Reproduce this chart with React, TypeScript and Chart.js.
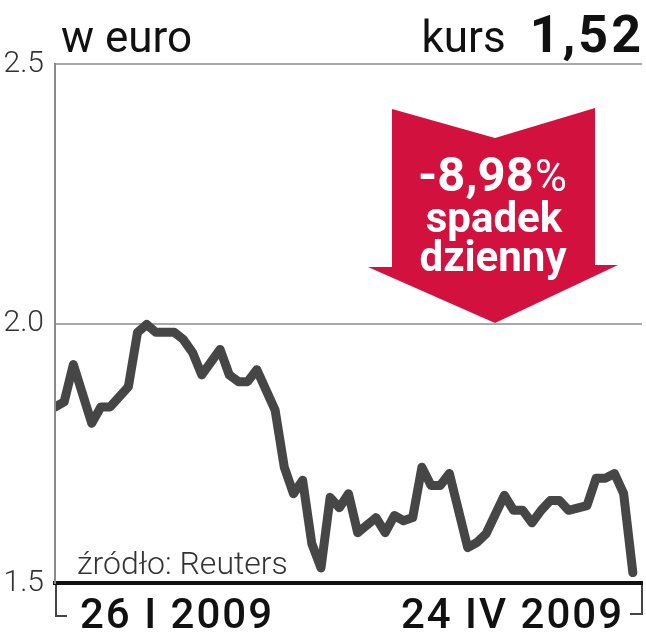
import React, { useEffect, useRef } from "react";
import { Chart, registerables } from "chart.js";

Chart.register(...registerables);

// trading-day slots from 26 I 2009 to 24 IV 2009 (+1 empty slot at the right edge)
const daySlots: string[] = Array.from({ length: 65 }, (_, i) => `d${i}`);

// EUR rate (null = no visible vertex; line spans the gap)
const kurs: (number | null)[] = [
  1.839, 1.849, 1.921, null, 1.808, 1.839, 1.839, null, 1.878, 1.983,
  1.998, 1.983, null, 1.983, 1.969, 1.944, 1.901, null, 1.950, 1.901,
  1.888, 1.888, 1.911, null, 1.833, 1.723, 1.672, 1.698, 1.576, 1.529,
  1.665, 1.645, 1.672, 1.597, null, 1.626, 1.597, 1.630, 1.620, 1.626,
  1.723, 1.688, 1.688, 1.711, null, 1.568, 1.578, 1.595, null, 1.669,
  1.640, 1.640, 1.616, 1.640, 1.659, 1.659, 1.640, null, 1.649, 1.702,
  1.702, 1.711, 1.672, 1.520, null,
];

const yTicks = [1.5, 2.0, 2.5];
const xTickLabels = ["26 I 2009", "24 IV 2009"];
const headerLeft = "w euro";
const headerKurs = "kurs";
const headerValue = "1,52";
const changeValue = "-8,98";
const changeLines = ["spadek", "dzienny"];
const sourceText = "źródło: Reuters";

const FONT = "Roboto, 'Liberation Sans', Arial, sans-serif";

const overlay = {
  id: "overlay",
  afterDraw(chart: any) {
    const ctx: any = chart.ctx;
    const { left, right, bottom } = chart.chartArea;
    ctx.save();

    // header
    ctx.fillStyle = "#111";
    ctx.textBaseline = "alphabetic";
    ctx.textAlign = "left";
    ctx.font = `400 44px ${FONT}`;
    ctx.fillText(headerLeft, 61, 52);
    ctx.textAlign = "right";
    ctx.font = `700 52px ${FONT}`;
    ctx.letterSpacing = "3px";
    ctx.fillText(headerValue, 644, 52);
    const vw = ctx.measureText(headerValue).width;
    ctx.letterSpacing = "0px";
    ctx.font = `400 44px ${FONT}`;
    ctx.fillText(headerKurs, 644 - vw - 24, 52);

    // red arrow
    ctx.fillStyle = "#d2113f";
    ctx.beginPath();
    ctx.moveTo(392, 109);
    ctx.lineTo(495, 138);
    ctx.lineTo(595, 108);
    ctx.lineTo(595, 265);
    ctx.lineTo(618, 265);
    ctx.lineTo(495, 323);
    ctx.lineTo(368, 267);
    ctx.lineTo(392, 267);
    ctx.closePath();
    ctx.fill();

    // arrow text
    ctx.fillStyle = "#ffffff";
    ctx.textAlign = "left";
    ctx.font = `700 49px ${FONT}`;
    const w1 = ctx.measureText(changeValue).width;
    ctx.font = `400 44px ${FONT}`;
    const w2 = ctx.measureText("%").width;
    const cx = 492;
    const sx = cx - (w1 + w2) / 2;
    ctx.font = `700 49px ${FONT}`;
    ctx.fillText(changeValue, sx, 191);
    ctx.font = `400 44px ${FONT}`;
    ctx.fillText("%", sx + w1 + 1, 191);
    ctx.textAlign = "center";
    ctx.font = `700 42px ${FONT}`;
    ctx.fillText(changeLines[0], cx + 2, 232);
    ctx.fillText(changeLines[1], cx + 1, 271);

    // source
    ctx.fillStyle = "#333";
    ctx.textAlign = "left";
    ctx.font = `300 32px ${FONT}`;
    ctx.fillText(sourceText, 77, 574);

    // x-axis brackets
    ctx.strokeStyle = "#444";
    ctx.lineWidth = 2;
    ctx.beginPath();
    ctx.moveTo(left + 1, bottom + 2);
    ctx.lineTo(left + 1, 616);
    ctx.lineTo(left + 12, 616);
    ctx.moveTo(right, bottom + 2);
    ctx.lineTo(right, 614);
    ctx.lineTo(right - 12, 614);
    ctx.stroke();

    // x-axis labels
    ctx.fillStyle = "#111";
    ctx.font = `500 42px ${FONT}`;
    ctx.letterSpacing = "2px";
    ctx.textAlign = "left";
    ctx.fillText(xTickLabels[0], left + 25, 628);
    ctx.textAlign = "right";
    ctx.fillText(xTickLabels[1], right - 18, 628);
    ctx.letterSpacing = "0px";

    ctx.restore();
  },
};

export default function App() {
  const ref = useRef<HTMLCanvasElement | null>(null);

  useEffect(() => {
    if (!ref.current) return;
    const chart = new Chart(ref.current, {
      type: "line",
      data: {
        labels: daySlots,
        datasets: [
          {
            data: kurs,
            borderColor: "#464646",
            borderWidth: 9,
            pointRadius: 0,
            tension: 0,
            spanGaps: true,
            borderJoinStyle: "round",
            borderCapStyle: "round",
            clip: { left: -1, top: 10, right: 10, bottom: 10 } as any,
          },
        ],
      },
      options: {
        responsive: false,
        animation: false,
        layout: { padding: { top: 64, right: 4, left: 0, bottom: 0 } },
        plugins: { legend: { display: false }, tooltip: { enabled: false } },
        scales: {
          x: {
            type: "category",
            offset: false,
            ticks: { display: false },
            grid: { display: false, drawTicks: false },
            border: { display: true, color: "#111", width: 4 },
            afterFit: (s: any) => {
              s.height = 57;
            },
          },
          y: {
            min: 1.5,
            max: 2.5,
            afterBuildTicks: (s: any) => {
              s.ticks = yTicks.map((v) => ({ value: v }));
            },
            ticks: {
              padding: 11,
              color: "#333",
              font: { family: FONT, size: 30, weight: "300" as any },
              callback: (v: any) => Number(v).toFixed(1),
            },
            grid: {
              drawTicks: false,
              color: (c: any) => (c.tick && c.tick.value === 1.5 ? "rgba(0,0,0,0)" : "#a8a8a8"),
              lineWidth: 2,
            },
            border: { display: true, color: "#8a8a8a", width: 2 },
            afterFit: (s: any) => {
              s.width = 55;
            },
          },
        },
      },
      plugins: [overlay],
    });
    return () => chart.destroy();
  }, []);

  return (
    <div style={{ position: "absolute", left: 0, top: 0, width: 646, height: 640, background: "#fff" }}>
      <canvas ref={ref} width={646} height={640} style={{ display: "block" }} />
    </div>
  );
}
